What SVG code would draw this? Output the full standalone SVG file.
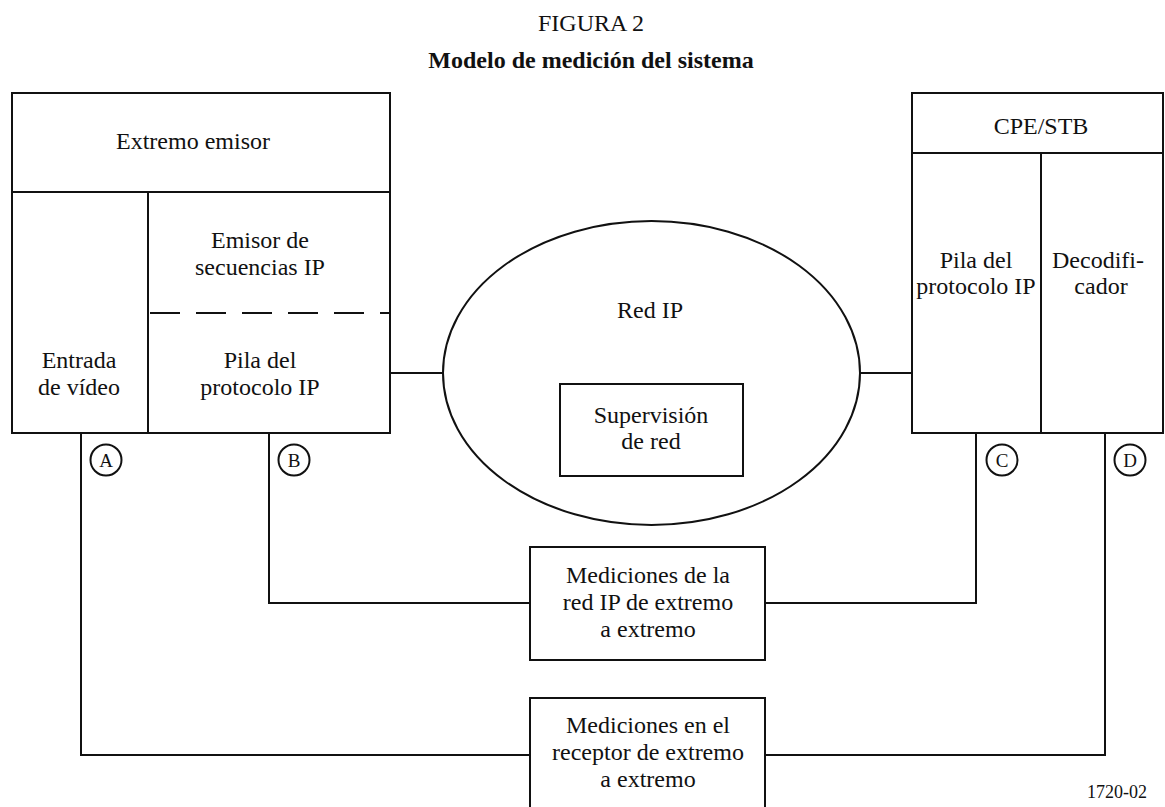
<svg xmlns="http://www.w3.org/2000/svg" width="1165" height="807" viewBox="0 0 1165 807">
<style>
.t{font-family:"Liberation Serif","Times New Roman",serif;font-size:24px;fill:#111;text-anchor:middle}
.b{font-weight:bold}
.s{font-size:18px}
.l{font-size:19px}
.k{fill:none;stroke:#111;stroke-width:2}
</style>
<rect width="1165" height="807" fill="#fff"/>
<text class="t" x="591" y="31">FIGURA 2</text>
<text class="t b" x="591" y="68">Modelo de medición del sistema</text>

<g id="connectors" class="k">
<line x1="390" y1="373" x2="443" y2="373"/>
<line x1="860" y1="373" x2="912" y2="373"/>
<polyline points="269,433 269,603 530,603"/>
<polyline points="765,603 976,603 976,433"/>
<polyline points="81,433 81,755 530,755"/>
<polyline points="765,755 1105,755 1105,433"/>
</g>

<g id="extremo-emisor">
<rect class="k" x="12" y="93" width="378" height="340"/>
<line class="k" x1="12" y1="192" x2="390" y2="192"/>
<line class="k" x1="148" y1="192" x2="148" y2="433"/>
<line class="k" x1="150" y1="313" x2="390" y2="313" stroke-dasharray="30 16"/>
<text class="t" x="193" y="149">Extremo emisor</text>
<text class="t" x="260" y="248">Emisor de</text>
<text class="t" x="260" y="275">secuencias IP</text>
<text class="t" x="79" y="368">Entrada</text>
<text class="t" x="79" y="395">de vídeo</text>
<text class="t" x="260" y="368">Pila del</text>
<text class="t" x="260" y="395">protocolo IP</text>
</g>

<g id="red-ip">
<ellipse class="k" cx="651.5" cy="373" rx="208.5" ry="152"/>
<text class="t" x="650" y="318">Red IP</text>
</g>

<g id="supervision">
<rect class="k" x="560" y="384" width="183" height="92"/>
<text class="t" x="651" y="423">Supervisión</text>
<text class="t" x="651" y="449">de red</text>
</g>

<g id="cpe-stb">
<rect class="k" x="912" y="93" width="251" height="340"/>
<line class="k" x1="912" y1="153" x2="1163" y2="153"/>
<line class="k" x1="1041" y1="153" x2="1041" y2="433"/>
<text class="t" x="1041" y="134">CPE/STB</text>
<text class="t" x="976" y="268">Pila del</text>
<text class="t" x="976" y="294">protocolo IP</text>
<text class="t" x="1098" y="268">Decodifi-</text>
<text class="t" x="1101" y="294">cador</text>
</g>

<g id="punto-a"><circle class="k" cx="106" cy="460" r="15.5"/><text class="t l" x="106" y="466.5">A</text></g>
<g id="punto-b"><circle class="k" cx="294" cy="460" r="15.5"/><text class="t l" x="294" y="466.5">B</text></g>
<g id="punto-c"><circle class="k" cx="1002" cy="460" r="15.5"/><text class="t l" x="1002" y="466.5">C</text></g>
<g id="punto-d"><circle class="k" cx="1130" cy="460" r="15.5"/><text class="t l" x="1130" y="466.5">D</text></g>

<g id="mediciones-red">
<rect class="k" x="530" y="547" width="235" height="113"/>
<text class="t" x="648" y="583">Mediciones de la</text>
<text class="t" x="648" y="610">red IP de extremo</text>
<text class="t" x="648" y="637">a extremo</text>
</g>

<g id="mediciones-receptor">
<rect class="k" x="530" y="698" width="235" height="130"/>
<text class="t" x="648" y="733">Mediciones en el</text>
<text class="t" x="648" y="760">receptor de extremo</text>
<text class="t" x="648" y="787">a extremo</text>
</g>

<text class="t s" x="1117" y="798">1720-02</text>
</svg>
